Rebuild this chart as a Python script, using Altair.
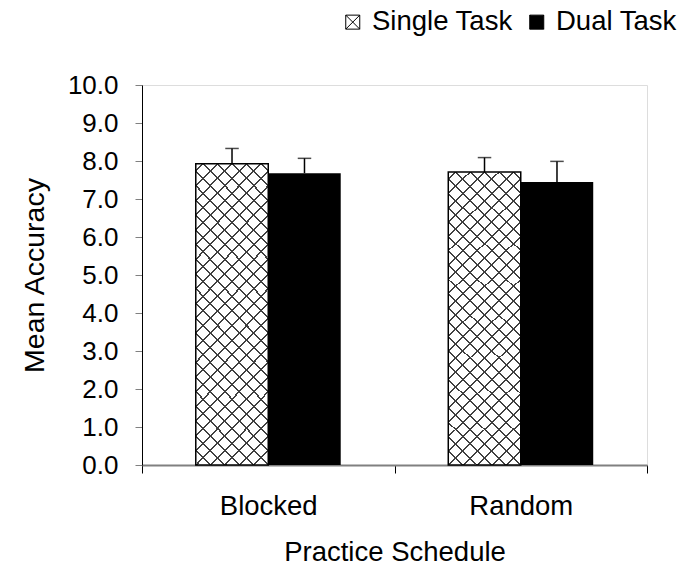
import altair as alt
import pandas as pd

# ---- data ----
practice = ["Blocked", "Blocked", "Random", "Random"]
task = ["Single Task", "Dual Task", "Single Task", "Dual Task"]
mean_acc = [7.93, 7.68, 7.71, 7.45]
std_err = [0.40, 0.39, 0.38, 0.54]

task_order = ["Single Task", "Dual Task"]
practice_order = ["Blocked", "Random"]
y_ticks = [0, 1, 2, 3, 4, 5, 6, 7, 8, 9, 10]

df = pd.DataFrame({"practice": practice, "task": task, "mean": mean_acc, "se": std_err})

FONT = "Liberation Sans"

# ---- cross-hatch fill built from two striped linear gradients ----
BW, BH = 72.5, 297.0      # approximate bar box (px) used to make 45 deg stripes
PERIOD = 14.5             # horizontal period of the lattice (px)
HALF = 1.0                # half line thickness measured along x+y (px)
LINE = "#404040"
CLEAR = "rgba(255,255,255,0)"


def hatch(direction):
    L = BW + BH
    s = L / (BW ** 2 + BH ** 2)
    a, b = s * BW, s * BH
    stops = [alt.GradientStop(color=CLEAR, offset=0)]
    c = PERIOD / 2
    while c + HALF < L:
        t0 = max((c - HALF) / L, 0)
        t1 = min((c + HALF) / L, 1)
        stops += [
            alt.GradientStop(color=CLEAR, offset=t0),
            alt.GradientStop(color=LINE, offset=t0),
            alt.GradientStop(color=LINE, offset=t1),
            alt.GradientStop(color=CLEAR, offset=t1),
        ]
        c += PERIOD
    stops.append(alt.GradientStop(color=CLEAR, offset=1))
    if direction == 0:
        return alt.LinearGradient(gradient="linear", stops=stops, x1=0, y1=0, x2=a, y2=b)
    return alt.LinearGradient(gradient="linear", stops=stops, x1=1, y1=0, x2=1 - a, y2=b)


x_axis = alt.Axis(
    title="Practice Schedule",
    labelAngle=0,
    labelFontSize=27.5,
    labelFont=FONT,
    labelColor="black",
    labelBaseline="alphabetic",
    labelPadding=41,
    tickBand="extent",
    tickSize=8,
    tickColor="black",
    tickWidth=1,
    domainColor="#808080",
    domainWidth=2,
    titleFontSize=27.5,
    titleFont=FONT,
    titleFontWeight="normal",
    titleColor="black",
    titleBaseline="alphabetic",
    titleX=252.5,
    titleY=95,
    titleAlign="center",
)

y_axis = alt.Axis(
    title="Mean Accuracy",
    values=y_ticks,
    format=".1f",
    labelFontSize=26,
    labelFont=FONT,
    labelColor="black",
    labelPadding=17,
    tickSize=7,
    tickColor="#808080",
    tickWidth=1,
    domainColor="black",
    domainWidth=1,
    grid=False,
    titleFontSize=28.5,
    titleFont=FONT,
    titleFontWeight="normal",
    titleColor="black",
    titleAngle=270,
    titleBaseline="alphabetic",
    titleAlign="center",
    titleX=-99,
    titleY=190,
)

x_enc = alt.X("practice:N", sort=practice_order,
              scale=alt.Scale(domain=practice_order, paddingInner=0, paddingOuter=0),
              axis=x_axis)
xo_enc = alt.XOffset("task:N", sort=task_order,
                     scale=alt.Scale(domain=task_order, paddingInner=0, paddingOuter=0.742))
y_scale = alt.Scale(domain=[0, 10], nice=False, zero=True)

legend = alt.Legend(
    orient="none",
    legendX=197,
    legendY=-77,
    direction="horizontal",
    title=None,
    symbolType="M-1,-1H1V1H-1Z M-1,-1L1,1 M1,-1L-1,1",
    symbolSize=196,
    symbolStrokeColor="black",
    symbolStrokeWidth=1,
    symbolOpacity=1,
    labelFontSize=27.5,
    labelFont=FONT,
    labelColor="black",
    labelOffset=5.5,
    columnPadding=10,
    padding=0,
    labelLimit=300,
)

base = alt.Chart(df)

bars = base.mark_bar().encode(
    x=x_enc,
    xOffset=xo_enc,
    y=alt.Y("mean:Q", scale=y_scale, axis=y_axis),
    fill=alt.Fill("task:N", scale=alt.Scale(domain=task_order, range=["white", "black"]),
                  legend=legend),
)

single = base.transform_filter(alt.datum.task == "Single Task")

hatch_a = single.mark_bar(fill=hatch(0)).encode(
    x=x_enc, xOffset=xo_enc, y=alt.Y("mean:Q", scale=y_scale, axis=y_axis),
)
hatch_b = single.mark_bar(fill=hatch(1), stroke="black", strokeWidth=1.5).encode(
    x=x_enc, xOffset=xo_enc, y=alt.Y("mean:Q", scale=y_scale, axis=y_axis),
)

err_rule = base.transform_calculate(upper="datum.mean + datum.se").mark_rule(
    color="black", strokeWidth=1.5
).encode(
    x=x_enc, xOffset=xo_enc,
    y=alt.Y("mean:Q", scale=y_scale, axis=y_axis),
    y2="upper:Q",
)

err_cap = base.transform_calculate(upper="datum.mean + datum.se").mark_tick(
    color="black", size=13.5, thickness=1.5
).encode(
    x=x_enc, xOffset=xo_enc,
    y=alt.Y("upper:Q", scale=y_scale, axis=y_axis),
)

chart = alt.layer(bars, hatch_a, hatch_b, err_rule, err_cap).properties(
    width=505,
    height=380,
    autosize=alt.AutoSizeParams(type="none"),
    padding={"left": 142, "top": 85, "right": 34, "bottom": 100},
    background="white",
).configure_view(stroke=None).configure(font=FONT)

chart.save("out.html", embed_options={"renderer": "svg", "actions": False})
